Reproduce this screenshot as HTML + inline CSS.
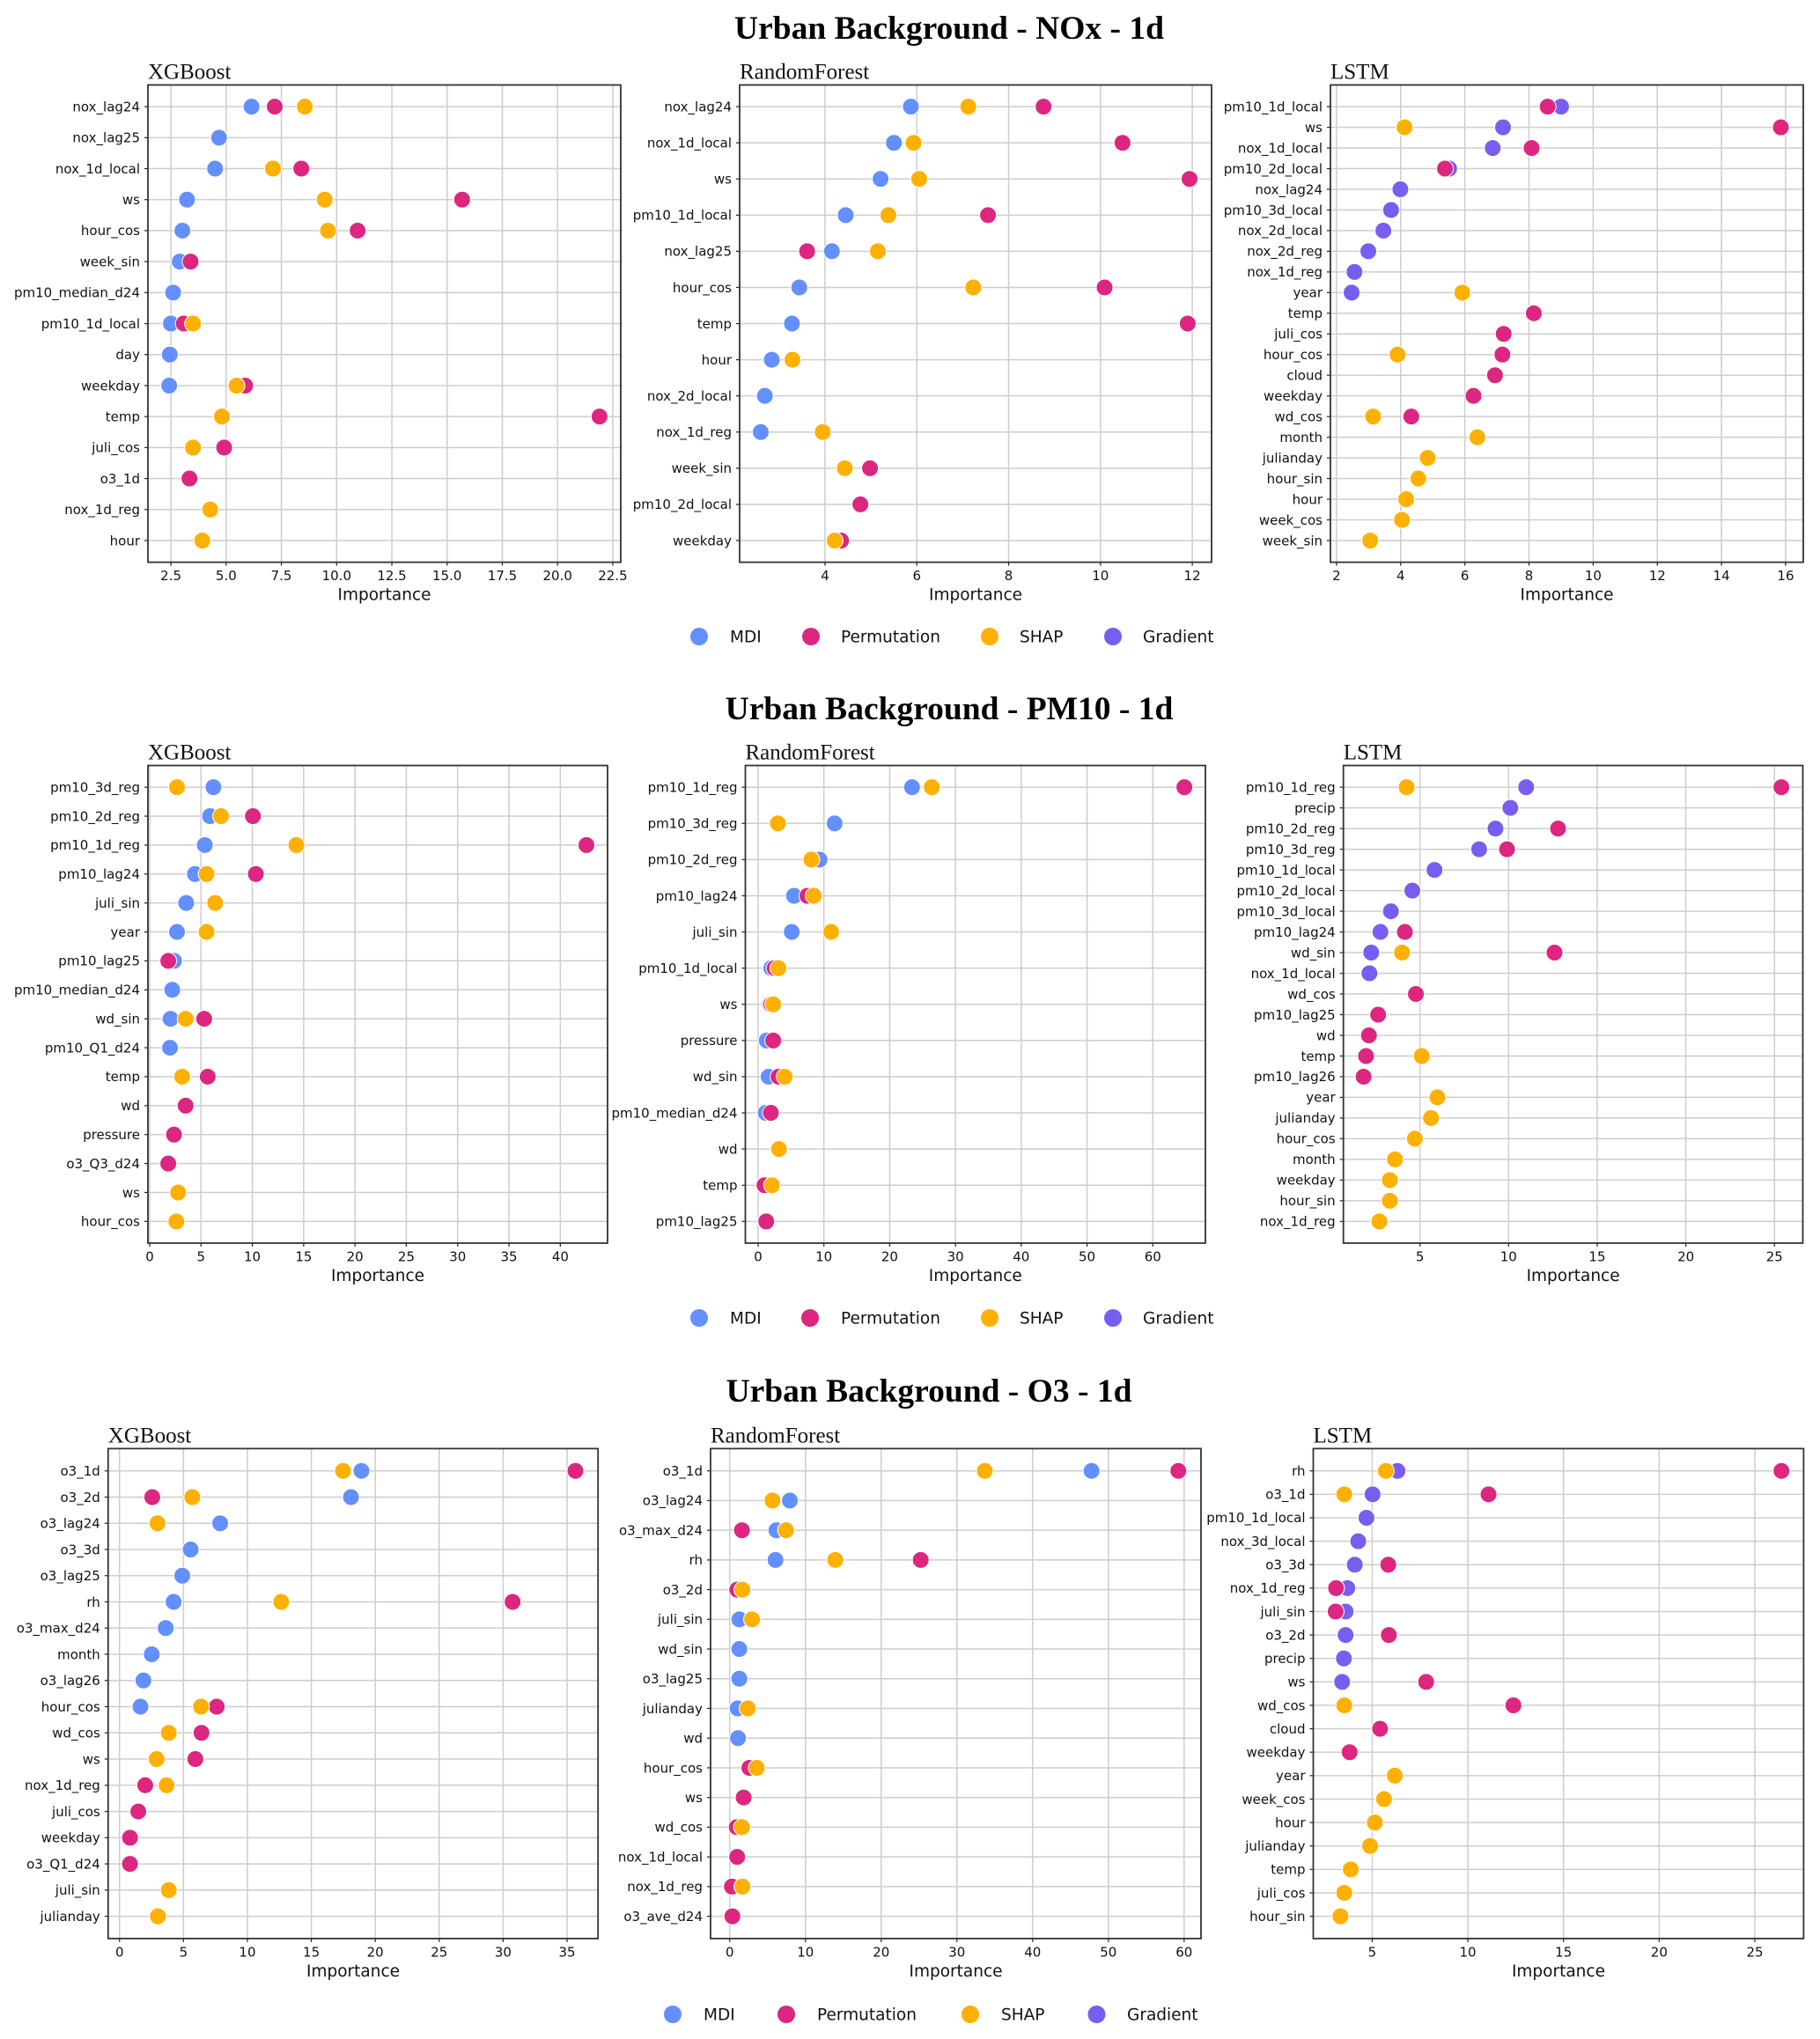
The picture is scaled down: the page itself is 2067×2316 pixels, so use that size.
<!DOCTYPE html>
<html><head><meta charset="utf-8">
<style>
html,body{margin:0;padding:0;background:#fff;}
svg{display:block;}
.tick{font-family:"DejaVu Sans","Liberation Sans",sans-serif;font-size:15px;fill:#111;}
.xl{font-family:"DejaVu Sans","Liberation Sans",sans-serif;font-size:18.5px;fill:#111;}
.st{font-family:"Liberation Serif",serif;font-size:25px;fill:#111;}
.mt{font-family:"Liberation Serif",serif;font-size:37.5px;font-weight:bold;fill:#000;}
</style></head>
<body>
<svg id="fig" width="2067" height="2316" viewBox="0 0 2067 2316" xmlns="http://www.w3.org/2000/svg"></svg>
<script>
const n = null;
// ---- Row 1: NOx ----
const nox_xgb_features = ["nox_lag24","nox_lag25","nox_1d_local","ws","hour_cos","week_sin","pm10_median_d24","pm10_1d_local","day","weekday","temp","juli_cos","o3_1d","nox_1d_reg","hour"];
const nox_xgb_mdi  = [6.15,4.68,4.5,3.23,3.02,2.9,2.6,2.5,2.45,2.42,n,n,n,n,n];
const nox_xgb_perm = [7.2,n,8.4,15.68,10.95,3.39,n,3.08,n,5.86,21.9,4.91,3.34,n,n];
const nox_xgb_shap = [8.56,n,7.12,9.46,9.61,n,n,3.5,n,5.47,4.81,3.5,n,4.28,3.92];
const nox_xgb_grad = [n,n,n,n,n,n,n,n,n,n,n,n,n,n,n];
const nox_xgb_ticks = [2.5,5,7.5,10,12.5,15,17.5,20,22.5];
const nox_xgb_ticklabels = ["2.5","5.0","7.5","10.0","12.5","15.0","17.5","20.0","22.5"];

const nox_rf_features = ["nox_lag24","nox_1d_local","ws","pm10_1d_local","nox_lag25","hour_cos","temp","hour","nox_2d_local","nox_1d_reg","week_sin","pm10_2d_local","weekday"];
const nox_rf_mdi  = [5.87,5.5,5.21,4.45,4.15,3.44,3.28,2.84,2.69,2.6,n,n,n];
const nox_rf_perm = [8.76,10.48,11.94,7.55,3.61,10.09,11.9,n,n,n,4.98,4.77,4.35];
const nox_rf_shap = [7.12,5.93,6.05,5.38,5.15,7.23,n,3.29,n,3.95,4.43,n,4.21];
const nox_rf_grad = [n,n,n,n,n,n,n,n,n,n,n,n,n];
const nox_rf_ticks = [4,6,8,10,12];
const nox_rf_ticklabels = ["4","6","8","10","12"];

const nox_lstm_features = ["pm10_1d_local","ws","nox_1d_local","pm10_2d_local","nox_lag24","pm10_3d_local","nox_2d_local","nox_2d_reg","nox_1d_reg","year","temp","juli_cos","hour_cos","cloud","weekday","wd_cos","month","julianday","hour_sin","hour","week_cos","week_sin"];
const nox_lstm_mdi  = [n,n,n,n,n,n,n,n,n,n,n,n,n,n,n,n,n,n,n,n,n,n];
const nox_lstm_perm = [8.58,15.85,8.08,5.38,n,n,n,n,n,n,8.15,7.21,7.17,6.94,6.27,4.33,n,n,n,n,n,n];
const nox_lstm_shap = [n,4.12,n,n,n,n,n,n,n,5.92,n,n,3.9,n,n,3.14,6.39,4.84,4.55,4.17,4.04,3.05];
const nox_lstm_grad = [9.0,7.19,6.87,5.51,3.99,3.7,3.46,2.99,2.56,2.47,n,n,n,n,n,n,n,n,n,n,n,n];
const nox_lstm_ticks = [2,4,6,8,10,12,14,16];
const nox_lstm_ticklabels = ["2","4","6","8","10","12","14","16"];

// ---- Row 2: PM10 ----
const pm_xgb_features = ["pm10_3d_reg","pm10_2d_reg","pm10_1d_reg","pm10_lag24","juli_sin","year","pm10_lag25","pm10_median_d24","wd_sin","pm10_Q1_d24","temp","wd","pressure","o3_Q3_d24","ws","hour_cos"];
const pm_xgb_mdi  = [6.21,5.88,5.37,4.41,3.56,2.66,2.37,2.2,2.03,1.98,n,n,n,n,n,n];
const pm_xgb_perm = [n,10.06,42.54,10.34,n,n,1.81,n,5.31,n,5.65,3.5,2.37,1.81,n,n];
const pm_xgb_shap = [2.66,6.95,14.29,5.54,6.38,5.54,n,n,3.5,n,3.16,n,n,n,2.77,2.6];
const pm_xgb_grad = [n,n,n,n,n,n,n,n,n,n,n,n,n,n,n,n];
const pm_xgb_ticks = [0,5,10,15,20,25,30,35,40];
const pm_xgb_ticklabels = ["0","5","10","15","20","25","30","35","40"];

const pm_rf_features = ["pm10_1d_reg","pm10_3d_reg","pm10_2d_reg","pm10_lag24","juli_sin","pm10_1d_local","ws","pressure","wd_sin","pm10_median_d24","wd","temp","pm10_lag25"];
const pm_rf_mdi  = [23.4,11.63,9.34,5.46,5.11,2.0,1.8,1.3,1.59,1.15,n,n,n];
const pm_rf_perm = [64.8,n,n,7.5,n,2.5,2.0,2.29,3.1,1.94,n,0.97,1.23];
const pm_rf_shap = [26.4,3.0,8.1,8.46,11.1,3.08,2.29,n,4.05,n,3.17,2.11,n];
const pm_rf_grad = [n,n,n,n,n,n,n,n,n,n,n,n,n];
const pm_rf_ticks = [0,10,20,30,40,50,60];
const pm_rf_ticklabels = ["0","10","20","30","40","50","60"];

const pm_lstm_features = ["pm10_1d_reg","precip","pm10_2d_reg","pm10_3d_reg","pm10_1d_local","pm10_2d_local","pm10_3d_local","pm10_lag24","wd_sin","nox_1d_local","wd_cos","pm10_lag25","wd","temp","pm10_lag26","year","julianday","hour_cos","month","weekday","hour_sin","nox_1d_reg"];
const pm_lstm_mdi  = [n,n,n,n,n,n,n,n,n,n,n,n,n,n,n,n,n,n,n,n,n,n];
const pm_lstm_perm = [25.39,n,12.79,9.91,n,n,n,4.15,12.59,n,4.77,2.64,2.12,1.96,1.82,n,n,n,n,n,n,n];
const pm_lstm_shap = [4.25,n,n,n,n,n,n,n,3.99,n,n,n,n,5.1,n,5.98,5.62,4.71,3.59,3.3,3.3,2.71];
const pm_lstm_grad = [10.99,10.1,9.26,8.34,5.82,4.57,3.36,2.77,2.25,2.15,n,n,n,n,n,n,n,n,n,n,n,n];
const pm_lstm_ticks = [5,10,15,20,25];
const pm_lstm_ticklabels = ["5","10","15","20","25"];

// ---- Row 3: O3 ----
const o3_xgb_features = ["o3_1d","o3_2d","o3_lag24","o3_3d","o3_lag25","rh","o3_max_d24","month","o3_lag26","hour_cos","wd_cos","ws","nox_1d_reg","juli_cos","weekday","o3_Q1_d24","juli_sin","julianday"];
const o3_xgb_mdi  = [18.92,18.1,7.87,5.56,4.91,4.23,3.61,2.52,1.87,1.64,n,n,n,n,n,n,n,n];
const o3_xgb_perm = [35.65,2.56,n,n,n,30.74,n,n,n,7.6,6.41,5.93,2.01,1.47,0.82,0.82,n,n];
const o3_xgb_shap = [17.48,5.69,2.97,n,n,12.64,n,n,n,6.37,3.85,2.9,3.68,n,n,n,3.85,3.0];
const o3_xgb_grad = [n,n,n,n,n,n,n,n,n,n,n,n,n,n,n,n,n,n];
const o3_xgb_ticks = [0,5,10,15,20,25,30,35];
const o3_xgb_ticklabels = ["0","5","10","15","20","25","30","35"];

const o3_rf_features = ["o3_1d","o3_lag24","o3_max_d24","rh","o3_2d","juli_sin","wd_sin","o3_lag25","julianday","wd","hour_cos","ws","wd_cos","nox_1d_local","nox_1d_reg","o3_ave_d24"];
const o3_rf_mdi  = [47.78,7.94,6.16,6.04,n,1.27,1.27,1.27,1.04,1.09,n,n,n,n,n,n];
const o3_rf_perm = [59.24,n,1.61,25.22,0.98,n,n,n,n,n,2.59,1.84,0.92,0.98,0.29,0.35];
const o3_rf_shap = [33.68,5.64,7.43,13.93,1.67,2.94,n,n,2.36,n,3.57,n,1.61,n,1.67,n];
const o3_rf_grad = [n,n,n,n,n,n,n,n,n,n,n,n,n,n,n,n];
const o3_rf_ticks = [0,10,20,30,40,50,60];
const o3_rf_ticklabels = ["0","10","20","30","40","50","60"];

const o3_lstm_features = ["rh","o3_1d","pm10_1d_local","nox_3d_local","o3_3d","nox_1d_reg","juli_sin","o3_2d","precip","ws","wd_cos","cloud","weekday","year","week_cos","hour","julianday","temp","juli_cos","hour_sin"];
const o3_lstm_mdi  = [n,n,n,n,n,n,n,n,n,n,n,n,n,n,n,n,n,n,n,n];
const o3_lstm_perm = [26.39,11.08,n,n,5.84,3.11,3.09,5.87,n,7.82,12.38,5.41,3.82,n,n,n,n,n,n,n];
const o3_lstm_shap = [5.71,3.54,n,n,n,n,n,n,n,n,3.54,n,n,6.18,5.62,5.14,4.89,3.88,3.54,3.34];
const o3_lstm_grad = [6.32,5.02,4.7,4.27,4.09,3.7,3.61,3.61,3.52,3.43,n,n,n,n,n,n,n,n,n,n];
const o3_lstm_ticks = [5,10,15,20,25];
const o3_lstm_ticklabels = ["5","10","15","20","25"];

const rowTitles = ["Urban Background - NOx - 1d","Urban Background - PM10 - 1d","Urban Background - O3 - 1d"];
const modelNames = ["XGBoost","RandomForest","LSTM"];
const methodNames = ["MDI","Permutation","SHAP","Gradient"];

// ---- layout (not data) ----
const COLORS = {MDI:"#648FFF",Permutation:"#DC267F",SHAP:"#FFB000",Gradient:"#785EF0"};
const rowsLayout = [
  {title:1078, titleY:31, top:96.5, bot:638.6, legY:723, leg:[[794,829],[921,955],[1124,1158],[1264,1298]]},
  {title:1078, titleY:804, top:869.5, bot:1412, legY:1497, leg:[[794,829],[920,955],[1124,1158],[1264,1298]]},
  {title:1055, titleY:1579, top:1645.4, bot:2201.9, legY:2288, leg:[[764,799],[893,928],[1102,1137],[1245.5,1280]]}
];
const panels = [
  {row:0,m:0,L:168,R:705,xmin:1.46,xmax:22.86,f:nox_xgb_features,mdi:nox_xgb_mdi,perm:nox_xgb_perm,shap:nox_xgb_shap,grad:nox_xgb_grad,t:nox_xgb_ticks,tl:nox_xgb_ticklabels},
  {row:0,m:1,L:840,R:1376,xmin:2.14,xmax:12.42,f:nox_rf_features,mdi:nox_rf_mdi,perm:nox_rf_perm,shap:nox_rf_shap,grad:nox_rf_grad,t:nox_rf_ticks,tl:nox_rf_ticklabels},
  {row:0,m:2,L:1511,R:2048,xmin:1.81,xmax:16.55,f:nox_lstm_features,mdi:nox_lstm_mdi,perm:nox_lstm_perm,shap:nox_lstm_shap,grad:nox_lstm_grad,t:nox_lstm_ticks,tl:nox_lstm_ticklabels},
  {row:1,m:0,L:168,R:690,xmin:-0.17,xmax:44.6,f:pm_xgb_features,mdi:pm_xgb_mdi,perm:pm_xgb_perm,shap:pm_xgb_shap,grad:pm_xgb_grad,t:pm_xgb_ticks,tl:pm_xgb_ticklabels},
  {row:1,m:1,L:846.5,R:1369,xmin:-1.94,xmax:68.0,f:pm_rf_features,mdi:pm_rf_mdi,perm:pm_rf_perm,shap:pm_rf_shap,grad:pm_rf_grad,t:pm_rf_ticks,tl:pm_rf_ticklabels},
  {row:1,m:2,L:1525.7,R:2047.5,xmin:0.68,xmax:26.6,f:pm_lstm_features,mdi:pm_lstm_mdi,perm:pm_lstm_perm,shap:pm_lstm_shap,grad:pm_lstm_grad,t:pm_lstm_ticks,tl:pm_lstm_ticklabels},
  {row:2,m:0,L:122.8,R:679.2,xmin:-0.89,xmax:37.42,f:o3_xgb_features,mdi:o3_xgb_mdi,perm:o3_xgb_perm,shap:o3_xgb_shap,grad:o3_xgb_grad,t:o3_xgb_ticks,tl:o3_xgb_ticklabels},
  {row:2,m:1,L:807,R:1364,xmin:-2.53,xmax:62.23,f:o3_rf_features,mdi:o3_rf_mdi,perm:o3_rf_perm,shap:o3_rf_shap,grad:o3_rf_grad,t:o3_rf_ticks,tl:o3_rf_ticklabels},
  {row:2,m:2,L:1491.5,R:2048.4,xmin:1.92,xmax:27.55,f:o3_lstm_features,mdi:o3_lstm_mdi,perm:o3_lstm_perm,shap:o3_lstm_shap,grad:o3_lstm_grad,t:o3_lstm_ticks,tl:o3_lstm_ticklabels}
];

const NS = "http://www.w3.org/2000/svg";
const fig = document.getElementById("fig");
function mk(tag, attrs, parent, text){
  const e = document.createElementNS(NS, tag);
  for (const k in attrs) e.setAttribute(k, attrs[k]);
  if (text !== undefined) e.textContent = text;
  (parent || fig).appendChild(e);
  return e;
}

rowsLayout.forEach((rl, ri) => {
  const g = mk("g", {});
  
  
  const t = mk("text", {x:rl.title, y:rl.titleY+13, "text-anchor":"middle", class:"mt"}, g, rowTitles[ri]);
  
  
  const lg = mk("g", {}, g);
  
  
  methodNames.forEach((mn, k) => {
    const e = mk("g", {}, lg);
    
    
    mk("circle", {cx:rl.leg[k][0], cy:rl.legY, r:10, fill:COLORS[mn]}, e);
    mk("text", {x:rl.leg[k][1], y:rl.legY+6.5, class:"xl"}, e, mn);
  });
});

panels.forEach(p => {
  const rl = rowsLayout[p.row];
  const top = rl.top, bot = rl.bot, H = bot - top;
  const N = p.f.length;
  const xs = v => p.L + (v - p.xmin) / (p.xmax - p.xmin) * (p.R - p.L);
  const ys = i => top + H * (0.05*(N-1) + i) / (1.1*(N-1));
  const g = mk("g", {});
  
  
  const st = mk("text", {x:p.L, y:top-7, class:"st"}, g, modelNames[p.m]);
  
  
  const grid = mk("g", {stroke:"#cdcdcd", "stroke-width":1.5}, g);
  
  
  const xt = mk("g", {}, g);
  
  
  p.t.forEach((tv, k) => {
    const x = xs(tv);
    mk("line", {x1:x, x2:x, y1:top, y2:bot}, grid);
    mk("line", {x1:x, x2:x, y1:bot, y2:bot+4, stroke:"#222", "stroke-width":1.2}, xt);
    mk("text", {x:x, y:bot+20.5, "text-anchor":"middle", class:"tick"}, xt, p.tl[k]);
  });
  const yt = mk("g", {}, g);
  
  
  p.f.forEach((fn, i) => {
    const y = ys(i);
    mk("line", {x1:p.L, x2:p.R, y1:y, y2:y}, grid);
    mk("line", {x1:p.L-4, x2:p.L, y1:y, y2:y, stroke:"#222", "stroke-width":1.2}, yt);
    mk("text", {x:p.L-9, y:y+5.3, "text-anchor":"end", class:"tick"}, yt, fn);
  });
  const xl = mk("text", {x:(p.L+p.R)/2, y:bot+43, "text-anchor":"middle", class:"xl"}, g, "Importance");
  
  
  const series = [["Gradient",p.grad],["MDI",p.mdi],["Permutation",p.perm],["SHAP",p.shap]];
  series.forEach(([mn, arr]) => {
    const sg = mk("g", {}, g);
    
    
    arr.forEach((v, i) => {
      if (v === null) return;
      const c = mk("circle", {cx:xs(v), cy:ys(i), r:9.5, fill:COLORS[mn], stroke:"#fff", "stroke-width":1}, sg);
      
      
    });
  });
  const fr = mk("rect", {x:p.L, y:top, width:p.R-p.L, height:H, fill:"none", stroke:"#333", "stroke-width":1.8}, g);
  
  
});
</script>
</body></html>
